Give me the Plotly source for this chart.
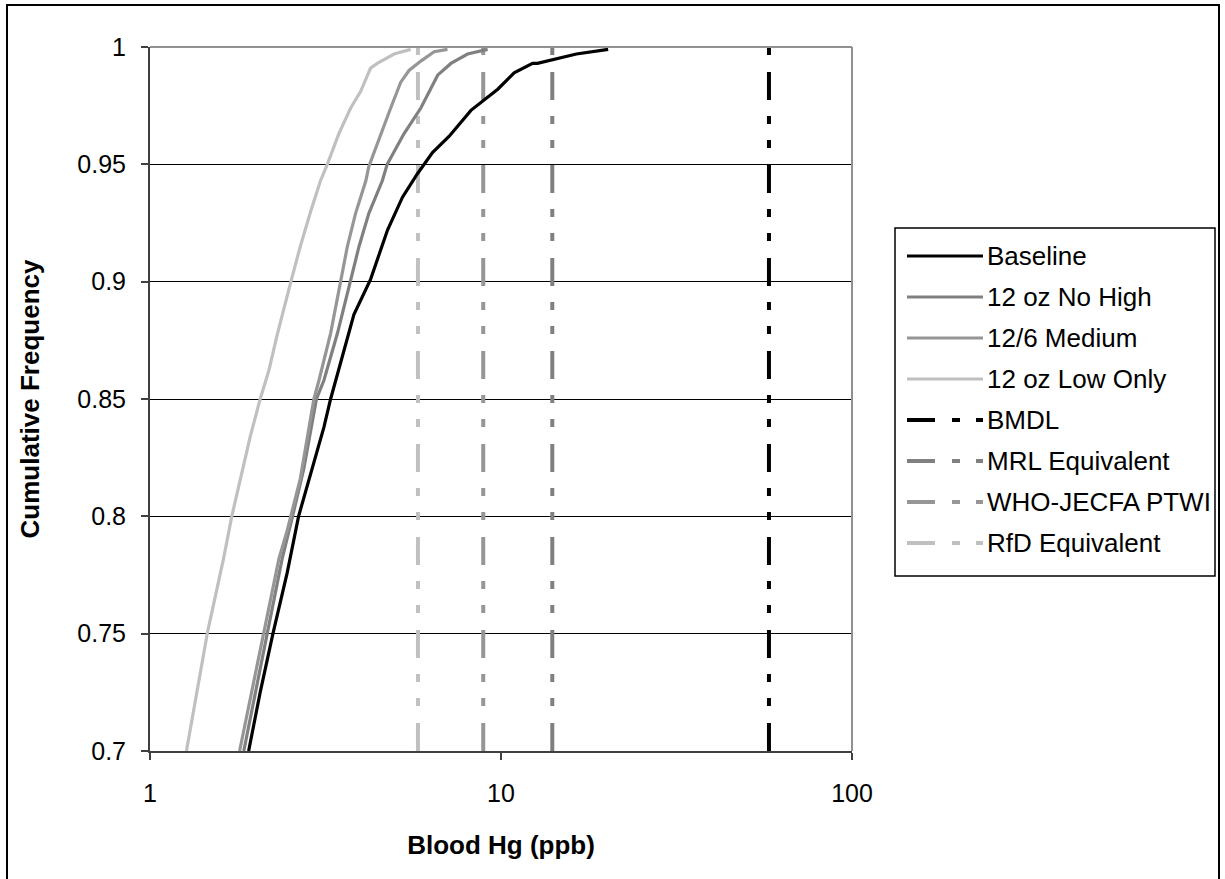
import plotly.graph_objects as go

# Cumulative frequency of blood mercury (ppb) for each fish-consumption scenario
baseline_hg = [1.91, 2.06, 2.24, 2.46, 2.65, 3.13, 3.27, 3.81, 4.25, 4.75, 5.24, 5.78,
               6.38, 7.12, 8.21, 9.79, 10.9, 12.3, 12.7, 14.5, 16.4, 20.2]
baseline_freq = [0.700, 0.725, 0.750, 0.776, 0.800, 0.838, 0.850, 0.886, 0.901, 0.922, 0.936, 0.946,
                 0.955, 0.962, 0.973, 0.982, 0.989, 0.993, 0.993, 0.995, 0.997, 0.999]

no_high_hg = [1.85, 2.16, 2.38, 2.51, 2.74, 2.98, 3.13, 3.42, 3.73, 3.94, 4.20, 4.59,
              4.74, 5.29, 5.91, 6.60, 7.20, 8.03, 9.16]
no_high_freq = [0.700, 0.750, 0.782, 0.796, 0.820, 0.850, 0.858, 0.878, 0.900, 0.915, 0.929, 0.943,
                0.950, 0.963, 0.974, 0.988, 0.993, 0.997, 0.999]

medium_hg = [1.80, 2.11, 2.33, 2.46, 2.68, 2.93, 3.03, 3.27, 3.49, 3.65, 3.85, 4.12,
             4.20, 4.54, 4.85, 5.18, 5.47, 5.91, 6.45, 7.04]
medium_freq = [0.700, 0.750, 0.782, 0.794, 0.816, 0.850, 0.858, 0.878, 0.900, 0.915, 0.929, 0.943,
               0.949, 0.963, 0.974, 0.985, 0.990, 0.994, 0.998, 0.999]

low_only_hg = [1.27, 1.36, 1.46, 1.62, 1.71, 1.93, 2.06, 2.18, 2.30, 2.52, 2.68, 2.87,
               3.06, 3.20, 3.45, 3.73, 3.98, 4.25, 4.44, 4.96, 5.53]
low_only_freq = [0.700, 0.725, 0.751, 0.782, 0.800, 0.834, 0.850, 0.862, 0.877, 0.900, 0.915, 0.930,
                 0.943, 0.950, 0.963, 0.974, 0.981, 0.991, 0.993, 0.997, 0.999]

scenario_names = ["Baseline", "12 oz No High", "12/6 Medium", "12 oz Low Only"]
scenario_colors = ["#000000", "#808080", "#969696", "#c0c0c0"]
scenario_hg = [baseline_hg, no_high_hg, medium_hg, low_only_hg]
scenario_freq = [baseline_freq, no_high_freq, medium_freq, low_only_freq]

# Health-based reference levels expressed as blood mercury (ppb)
reference_names = ["BMDL", "MRL Equivalent", "WHO-JECFA PTWI", "RfD Equivalent"]
reference_hg = [58.0, 14.0, 8.9, 5.8]
reference_colors = ["#000000", "#808080", "#969696", "#c0c0c0"]

y_ticks = [0.7, 0.75, 0.8, 0.85, 0.9, 0.95, 1.0]
y_tick_labels = ["0.7", "0.75", "0.8", "0.85", "0.9", "0.95", "1"]
x_ticks = [1, 10, 100]
x_tick_labels = ["1", "10", "100"]
freq_range = [0.7, 1.0]

# Page geometry (px)
W, H = 1225, 879
ML, MR, MT, MB = 150, 373, 47, 128
PW, PH = W - ML - MR, H - MT - MB
FONT = "Liberation Sans, Arial, sans-serif"
LONG_DASH_DOT_DOT = "28px,17px,8px,16px,8px,16px"


def px_x(p):
    return (p - ML) / PW


def px_y(p):
    return (H - MB - p) / PH


fig = go.Figure()

# Reference levels as vertical dashed lines spanning the frequency axis
for name, val, col in zip(reference_names, reference_hg, reference_colors):
    fig.add_trace(go.Scatter(
        x=[val, val], y=freq_range, mode="lines", name=name,
        line=dict(color=col, width=4, dash=LONG_DASH_DOT_DOT),
        showlegend=False, hoverinfo="skip"))

# Scenario distributions
for name, xs, ys, col in zip(scenario_names, scenario_hg, scenario_freq, scenario_colors):
    fig.add_trace(go.Scatter(
        x=xs, y=ys, mode="lines", name=name,
        line=dict(color=col, width=3.2), showlegend=False))

shapes = []
annotations = []

# Outer chart border
shapes.append(dict(type="rect", xref="paper", yref="paper",
                   x0=px_x(7), x1=px_x(1219), y0=px_y(900), y1=px_y(5),
                   line=dict(color="#000000", width=2), layer="below"))
# Plot-area border on the top and right
shapes.append(dict(type="line", xref="paper", yref="paper", x0=0, x1=1, y0=1, y1=1,
                   line=dict(color="#909090", width=2)))
shapes.append(dict(type="line", xref="paper", yref="paper", x0=1, x1=1, y0=0, y1=1,
                   line=dict(color="#909090", width=2)))

# Legend box with line keys
legend_left, legend_right, legend_top, legend_bottom = 895, 1215, 228, 576
shapes.append(dict(type="rect", xref="paper", yref="paper",
                   x0=px_x(legend_left), x1=px_x(legend_right),
                   y0=px_y(legend_bottom), y1=px_y(legend_top),
                   line=dict(color="#000000", width=1.5), fillcolor="white"))

legend_names = scenario_names + reference_names
legend_colors = scenario_colors + reference_colors
legend_dash = ["solid"] * 4 + [LONG_DASH_DOT_DOT] * 4
for i, (name, col, dash) in enumerate(zip(legend_names, legend_colors, legend_dash)):
    yc = 256 + 41 * i
    shapes.append(dict(type="line", xref="paper", yref="paper",
                       x0=px_x(907), x1=px_x(983), y0=px_y(yc), y1=px_y(yc),
                       line=dict(color=col, width=4 if dash != "solid" else 3.2, dash=dash)))
    annotations.append(dict(text=name, xref="paper", yref="paper",
                            x=px_x(985), y=px_y(yc), xanchor="left", yanchor="middle",
                            showarrow=False, font=dict(family=FONT, size=26, color="#000000")))

fig.update_layout(
    width=W, height=H, autosize=False,
    margin=dict(l=ML, r=MR, t=MT, b=MB, pad=0),
    paper_bgcolor="white", plot_bgcolor="white",
    font=dict(family=FONT, size=25, color="#000000"),
    shapes=shapes, annotations=annotations,
    showlegend=False,
)

fig.update_xaxes(
    type="log", range=[0, 2],
    tickvals=x_ticks, ticktext=x_tick_labels,
    showgrid=False, zeroline=False,
    showline=True, linecolor="#404040", linewidth=2,
    ticks="outside", ticklen=7, tickwidth=1.5, tickcolor="#404040",
    ticklabelstandoff=12,
    tickfont=dict(family=FONT, size=25),
    title=dict(text="<b>Blood Hg (ppb)</b>", font=dict(family=FONT, size=26), standoff=30),
)
fig.update_yaxes(
    range=freq_range,
    tickvals=y_ticks, ticktext=y_tick_labels,
    showgrid=True, gridcolor="#000000", gridwidth=1,
    zeroline=False,
    showline=True, linecolor="#404040", linewidth=2,
    ticks="outside", ticklen=7, tickwidth=1.5, tickcolor="#404040",
    ticklabelstandoff=10,
    tickfont=dict(family=FONT, size=25),
    title=dict(text="<b>Cumulative Frequency</b>", font=dict(family=FONT, size=26), standoff=30),
)

fig.write_html("out.html")
